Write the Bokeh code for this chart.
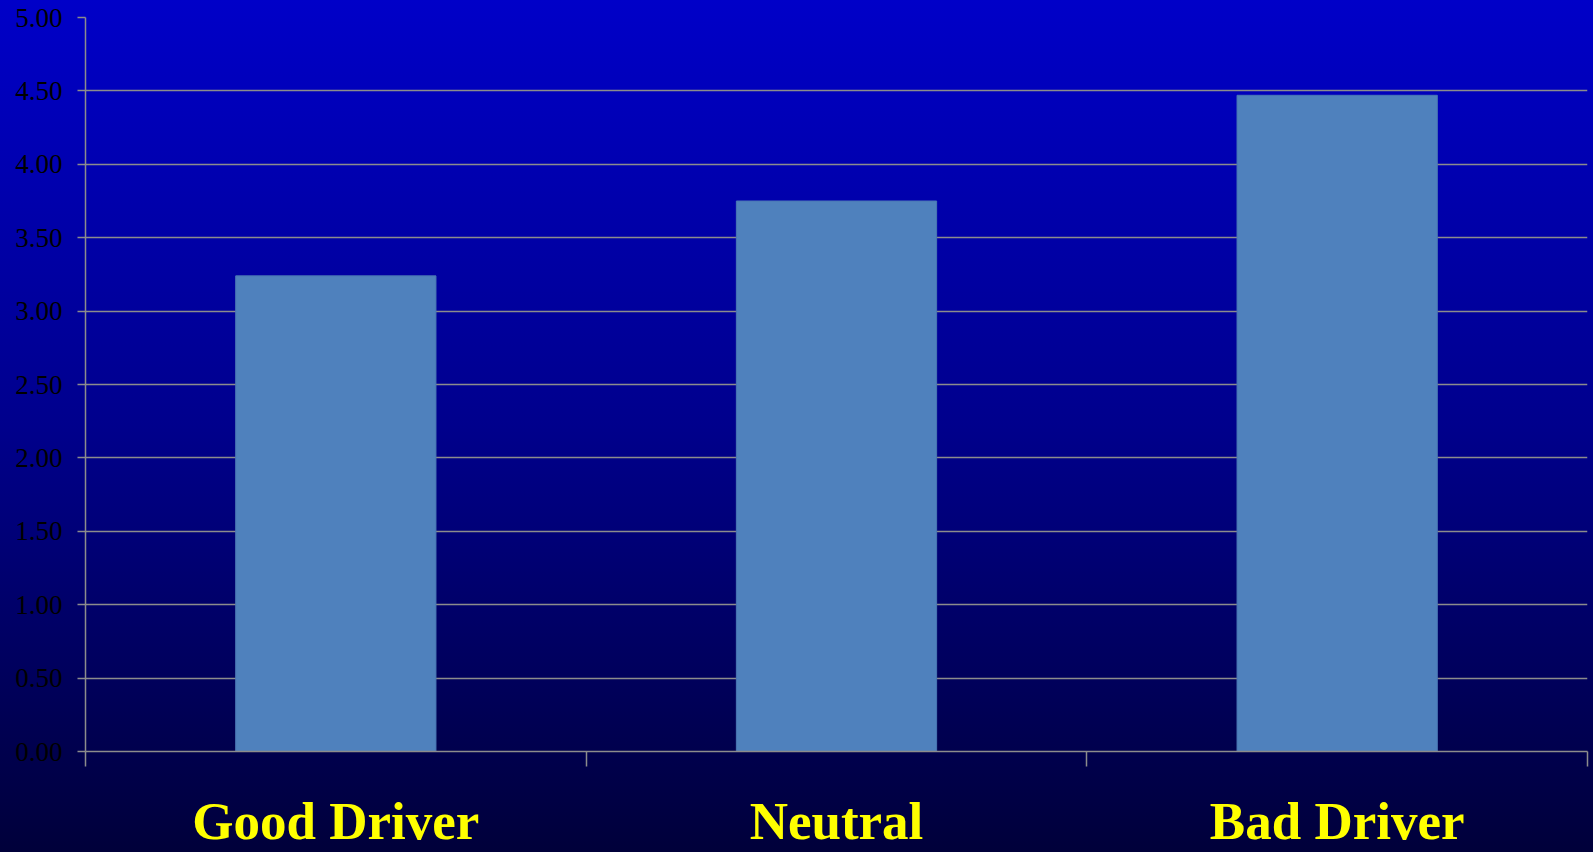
from bokeh.plotting import figure
from bokeh.models import (Range1d, LinearAxis, FixedTicker, NumeralTickFormatter,
                          InlineStyleSheet, ColumnDataSource)
from bokeh.embed import file_html
from bokeh.resources import INLINE

categories = ["Good Driver", "Neutral", "Bad Driver"]
values = [3.24, 3.75, 4.47]
y_ticks = [0.0, 0.5, 1.0, 1.5, 2.0, 2.5, 3.0, 3.5, 4.0, 4.5, 5.0]

n = len(categories)
centers = [i + 0.5 for i in range(n)]
boundaries = list(range(n + 1))
src = ColumnDataSource(dict(x=centers, top=values, cat=categories))

GRID = "#8c8c8c"

p = figure(width=1593, height=852, x_range=Range1d(0, n), y_range=Range1d(0, 5),
           output_backend="svg", toolbar_location=None, x_axis_location=None,
           min_border_left=85, min_border_right=6, min_border_top=17, min_border_bottom=100)
p.stylesheets = [InlineStyleSheet(css=":host { background: linear-gradient(to bottom, #0000c8 0%, #00008c 50%, #00003a 100%); }")]
p.background_fill_color = None
p.border_fill_color = None
p.outline_line_color = None

p.vbar(x="x", top="top", width=0.4, source=src, fill_color="#4f81bd", line_color="#4a77b4", line_width=1)

# y axis
ya = p.yaxis[0]
ya.ticker = FixedTicker(ticks=y_ticks)
ya.formatter = NumeralTickFormatter(format="0.00")
ya.axis_line_color = GRID
ya.axis_line_width = 1.5
ya.major_tick_line_color = GRID
ya.major_tick_line_width = 1.5
ya.major_tick_out = 8
ya.major_tick_in = 0
ya.minor_tick_line_color = None
ya.major_label_standoff = 15
ya.major_label_text_font = "Liberation Serif"
ya.major_label_text_font_size = "27px"
ya.major_label_text_color = "black"

p.ygrid.ticker = FixedTicker(ticks=y_ticks)
p.ygrid.grid_line_color = GRID
p.ygrid.grid_line_width = 1.5
p.xgrid.grid_line_color = None

# x axis: category labels at centers, boundary ticks as minor ticks
xa = LinearAxis(ticker=FixedTicker(ticks=centers, minor_ticks=boundaries),
                major_label_overrides={c: name for c, name in zip(centers, categories)})
xa.axis_line_color = GRID
xa.axis_line_width = 1.5
xa.major_tick_line_color = None
xa.major_tick_out = 0
xa.major_tick_in = 0
xa.minor_tick_line_color = GRID
xa.minor_tick_line_width = 1.5
xa.minor_tick_out = 15
xa.minor_tick_in = 0
xa.major_label_standoff = 25
xa.major_label_text_line_height = 1.0
xa.major_label_text_font = "Liberation Serif"
xa.major_label_text_font_style = "bold"
xa.major_label_text_font_size = "53px"
xa.major_label_text_color = "#ffff00"
p.add_layout(xa, "below")

open("out.html", "w").write(file_html(p, INLINE))
